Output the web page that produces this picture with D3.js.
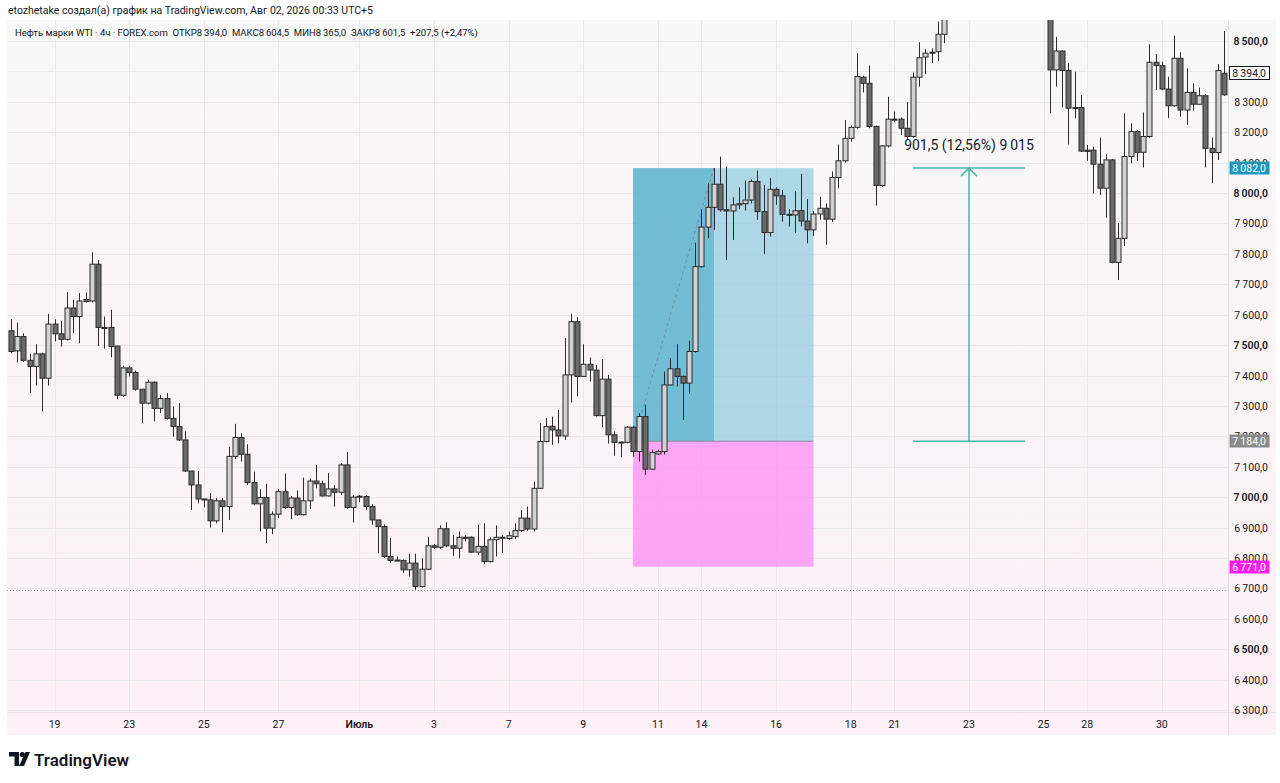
<!DOCTYPE html>
<html>
<head>
<meta charset="utf-8">
<script src="https://cdn.jsdelivr.net/npm/d3@7"></script>
<style>
  html, body { margin: 0; padding: 0; background: #fff; }
  svg { display: block; font-family: Roboto, "Noto Sans", sans-serif; }
</style>
</head>
<body>
<div id="chart"></div>
<script>
// 4h candles, WTI (FOREX.com)
var opens = [
  7547,7481,7528,7450,7430,7471,7391,7569,7537,7519,7622,7594,7650,7645,7766,7558,7558,7497,7335,7425,
  7410,7355,7309,7378,7292,7324,7259,7232,7188,7086,7040,6994,6991,6922,6988,6969,7134,7196,7141,7048,
  6978,6999,6898,6944,7018,6966,6997,6942,6988,7053,7044,7004,7027,7016,7106,6966,7000,7002,6969,6925,
  6903,6805,6792,6792,6761,6783,6706,6763,6840,6835,6896,6840,6832,6868,6868,6819,6838,6788,6860,6866,
  6864,6870,6890,6931,6895,7029,7183,7233,7221,7201,7402,7577,7397,7437,7418,7268,7388,7205,7181,7180,
  7230,7150,7265,7092,7142,7150,7369,7422,7397,7375,7479,7758,7888,7953,8029,7945,7941,7961,7965,7977,
  8038,7939,7870,8012,7991,7930,7928,7942,7908,7879,7931,7950,7914,8051,8106,8180,8216,8381,8361,8219,
  8025,8155,8243,8243,8213,8186,8381,8447,8460,8465,8522,8588,8645,8690,8712,8700,8730,8770,8760,8725,
  8750,8785,8755,8715,8690,8700,8665,8645,8405,8467,8403,8281,8281,8141,8141,8095,8016,8109,7772,7851,
  8120,8202,8134,8186,8430,8419,8342,8287,8443,8273,8331,8292,8320,8147,8133,8394
];
var highs = [
  7585,7574,7539,7471,7503,7475,7603,7585,7580,7674,7649,7671,7673,7805,7780,7594,7616,7497,7432,7432,
  7416,7355,7386,7380,7336,7342,7298,7309,7216,7086,7086,6994,7013,6997,6997,7166,7241,7210,7174,7084,
  7026,7044,6953,7027,7077,7004,7022,7064,7062,7106,7054,7079,7040,7112,7148,7007,7007,7007,6977,6925,
  6910,6865,6805,6795,6814,6814,6799,6870,6846,6907,6917,6876,6887,6876,6871,6909,6914,6868,6907,6876,
  6887,6914,6958,6969,7051,7243,7260,7265,7287,7523,7603,7592,7503,7459,7435,7454,7402,7216,7183,7234,
  7234,7276,7304,7156,7156,7413,7457,7503,7400,7515,7837,7947,8032,8082,8120,8087,7986,8019,8041,8045,
  8074,8027,8049,8019,8010,7947,8007,8063,7980,7941,7988,7966,8071,8160,8240,8222,8460,8386,8419,8222,
  8158,8317,8268,8248,8299,8397,8496,8473,8476,8564,8610,8660,8700,8735,8760,8745,8790,8815,8795,8770,
  8805,8820,8780,8750,8725,8730,8700,8690,8514,8470,8427,8399,8323,8158,8153,8182,8128,8112,7901,8262,
  8229,8208,8265,8489,8457,8432,8383,8518,8463,8410,8361,8347,8325,8182,8424,8533
];
var lows = [
  7473,7443,7445,7342,7367,7282,7367,7512,7495,7515,7539,7506,7640,7640,7497,7488,7460,7322,7329,7397,
  7350,7243,7305,7249,7276,7255,7199,7185,7083,6958,6980,6966,6900,6914,6884,6925,7125,7117,7040,6975,
  6887,6849,6878,6931,6962,6927,6938,6940,6961,7029,7002,7002,6969,7007,6962,6917,6983,6958,6909,6816,
  6800,6785,6790,6750,6739,6695,6703,6760,6830,6830,6835,6807,6799,6854,6817,6810,6779,6785,6805,6816,
  6860,6862,6886,6890,6887,7027,7180,7172,7177,7188,7311,7331,7395,7380,7265,7230,7177,7136,7131,7177,
  7133,7117,7073,7090,7139,7140,7367,7364,7254,7340,7475,7755,7852,7879,7939,7780,7846,7947,7942,7966,
  7912,7800,7857,7961,7906,7890,7868,7890,7835,7859,7912,7830,7905,8016,8100,8169,8212,8331,8213,7959,
  8020,8150,8233,8191,8178,8182,8350,8391,8427,8434,8493,8582,8625,8660,8680,8655,8705,8735,8710,8690,
  8720,8740,8700,8670,8650,8640,8630,8262,8350,8281,8160,8246,8135,8106,7999,7994,7919,7769,7714,7826,
  8098,8106,8084,8182,8339,8339,8246,8284,8251,8224,8271,8290,8084,8032,8109,8320
];
var closes = [
  7479,7528,7450,7430,7471,7391,7569,7537,7519,7622,7594,7645,7643,7766,7558,7557,7495,7335,7425,7410,
  7355,7309,7378,7292,7324,7259,7232,7188,7086,7040,6994,6992,6922,6988,6969,7134,7196,7141,7048,6978,
  6999,6898,6944,7018,6966,6997,6942,6988,7053,7044,7004,7027,7016,7106,6966,7000,7003,6969,6925,6903,
  6805,6792,6793,6761,6783,6706,6763,6840,6835,6896,6840,6832,6868,6866,6819,6838,6788,6860,6868,6868,
  6873,6890,6931,6895,7029,7183,7232,7221,7201,7402,7577,7397,7437,7418,7268,7388,7205,7180,7180,7230,
  7150,7265,7092,7147,7150,7369,7422,7397,7375,7479,7758,7888,7953,8029,7945,7941,7961,7965,7977,8038,
  7939,7870,8012,7991,7930,7929,7942,7908,7879,7931,7950,7914,8051,8106,8180,8216,8383,8361,8219,8025,
  8155,8243,8241,8213,8186,8381,8445,8460,8463,8522,8588,8645,8690,8712,8700,8730,8770,8760,8725,8750,
  8785,8755,8715,8690,8700,8665,8645,8405,8467,8403,8279,8279,8138,8137,8095,8016,8109,7772,7851,8120,
  8202,8134,8186,8430,8419,8342,8287,8443,8273,8331,8292,8320,8147,8133,8403,8323
];

// date labels on the time axis: [candle index, label]
var dateTicks = [
  [7,"19"],[19,"23"],[31,"25"],[43,"27"],[56,"Июль"],[68,"3"],[80,"7"],[92,"9"],[104,"11"],
  [111,"14"],[123,"16"],[135,"18"],[142,"21"],[154,"23"],[166,"25"],[173,"28"],[185,"30"]
];
var priceTicks = [6300,6400,6500,6600,6700,6800,6900,7000,7100,7200,7300,7400,7500,7600,7700,7800,7900,8000,8100,8200,8300,8400,8500];

// long position tool and price range tool
var longPos = { start: 100, end: 129, hit: 113, entry: 7184, target: 8082, stop: 6771 };
var range = { start: 145, end: 163, mid: 154, from: 7184, to: 8082, text: "901,5 (12,56%) 9\u2009015" };
var lastOpen = 8394;
var lowLine = 6695;

var headerText = "etozhetake создал(а) график на TradingView.com, Авг 02, 2026 00:33 UTC+5";
var legendText = "Нефть марки WTI · 4ч · FOREX.com  ОТКР8\u2009394,0  МАКС8\u2009604,5  МИН8\u2009365,0  ЗАКР8\u2009601,5  +207,5 (+2,47%)";

var candles = opens.map(function(o, i) {
  return { i: i, o: o, h: highs[i], l: lows[i], c: closes[i] };
});

var width = 1280, height = 783;
var plot = { left: 7, right: 1228, top: 20, bottom: 712 };
var axisBottom = 735;

var fmt = d3.formatLocale({ decimal: ",", thousands: "\u2009", grouping: [3], currency: ["", ""] }).format(",.1f");

var x = d3.scaleLinear().domain([0, candles.length - 1]).range([11, 1224]);
var y = d3.scaleLinear().domain([6300, 8500]).range([710, 41]);

var svg = d3.select("#chart").append("svg")
  .attr("width", width)
  .attr("height", height);

var defs = svg.append("defs");
var grad = defs.append("linearGradient")
  .attr("id", "bg").attr("x1", 0).attr("y1", 0).attr("x2", 0).attr("y2", 1);
grad.append("stop").attr("offset", "0%").attr("stop-color", "#f8f8f8");
grad.append("stop").attr("offset", "100%").attr("stop-color", "#fdf0f6");

defs.append("clipPath").attr("id", "plotClip")
  .append("rect")
  .attr("x", plot.left).attr("y", plot.top)
  .attr("width", plot.right - plot.left).attr("height", plot.bottom - plot.top);

// background of the chart pane + axes
svg.append("rect")
  .attr("x", plot.left).attr("y", plot.top)
  .attr("width", 1276 - plot.left).attr("height", axisBottom - plot.top)
  .attr("fill", "url(#bg)");

// grid
var grid = svg.append("g").attr("clip-path", "url(#plotClip)");
grid.selectAll(".hg").data(priceTicks).enter().append("line")
  .attr("x1", plot.left).attr("x2", plot.right)
  .attr("y1", function(d) { return Math.round(y(d)) + 0.5; })
  .attr("y2", function(d) { return Math.round(y(d)) + 0.5; })
  .attr("stroke", "#ebe8ea").attr("stroke-width", 1);
grid.selectAll(".vg").data(dateTicks).enter().append("line")
  .attr("x1", function(d) { return Math.round(x(d[0])) + 0.5; })
  .attr("x2", function(d) { return Math.round(x(d[0])) + 0.5; })
  .attr("y1", plot.top).attr("y2", plot.bottom)
  .attr("stroke", "#ebe8ea").attr("stroke-width", 1);

// frame lines
svg.append("line").attr("x1", plot.left).attr("x2", 1276)
  .attr("y1", plot.bottom + 0.5).attr("y2", plot.bottom + 0.5).attr("stroke", "#e6e0e4");
svg.append("line").attr("x1", plot.right + 0.5).attr("x2", plot.right + 0.5)
  .attr("y1", plot.top).attr("y2", axisBottom).attr("stroke", "#e6e0e4");

var pane = svg.append("g").attr("clip-path", "url(#plotClip)");

// dotted low line
pane.append("line")
  .attr("x1", plot.left).attr("x2", plot.right)
  .attr("y1", Math.round(y(lowLine)) + 0.5).attr("y2", Math.round(y(lowLine)) + 0.5)
  .attr("stroke", "#9a9a9a").attr("stroke-width", 1).attr("stroke-dasharray", "1,2");

// long position: profit / loss zones
var lx0 = x(longPos.start), lx1 = x(longPos.end), lxh = x(longPos.hit);
pane.append("rect")
  .attr("x", lx0).attr("y", y(longPos.target))
  .attr("width", lx1 - lx0).attr("height", y(longPos.entry) - y(longPos.target))
  .attr("fill", "#8fcbe0").attr("fill-opacity", 0.7);
pane.append("rect")
  .attr("x", lx0).attr("y", y(longPos.target))
  .attr("width", lxh - lx0).attr("height", y(longPos.entry) - y(longPos.target))
  .attr("fill", "#3fa6c6").attr("fill-opacity", 0.55);
pane.append("rect")
  .attr("x", lx0).attr("y", y(longPos.entry))
  .attr("width", lx1 - lx0).attr("height", y(longPos.stop) - y(longPos.entry))
  .attr("fill", "#fc90f5").attr("fill-opacity", 0.78);
pane.append("line")
  .attr("x1", lx0).attr("x2", lx1)
  .attr("y1", y(longPos.entry)).attr("y2", y(longPos.entry))
  .attr("stroke", "#8a8a9a").attr("stroke-width", 1);
pane.append("line")
  .attr("x1", lx0).attr("y1", y(longPos.entry))
  .attr("x2", lxh).attr("y2", y(longPos.target))
  .attr("stroke", "#7a8c99").attr("stroke-width", 1).attr("stroke-dasharray", "3,3");

// candles
var cg = pane.selectAll(".candle").data(candles).enter().append("g").attr("class", "candle");
cg.append("line")
  .attr("x1", function(d) { return Math.round(x(d.i)) + 0.5; })
  .attr("x2", function(d) { return Math.round(x(d.i)) + 0.5; })
  .attr("y1", function(d) { return y(d.h); })
  .attr("y2", function(d) { return y(d.l); })
  .attr("stroke", "#2b2b2b").attr("stroke-width", 1);
cg.append("rect")
  .attr("x", function(d) { return Math.round(x(d.i)) - 2; })
  .attr("y", function(d) { return y(Math.max(d.o, d.c)); })
  .attr("width", 5)
  .attr("height", function(d) { return Math.max(1, Math.abs(y(d.o) - y(d.c))); })
  .attr("fill", function(d) { return d.c >= d.o ? "#d2d2d2" : "#6a6a6a"; })
  .attr("stroke", "#2b2b2b").attr("stroke-width", 1);

// price range tool
var rColor = "#4db8a4";
var rx0 = x(range.start), rx1 = x(range.end), rxm = x(range.mid);
var rg = svg.append("g").attr("clip-path", "url(#plotClip)");
rg.append("line").attr("x1", rx0).attr("x2", rx1)
  .attr("y1", y(range.to)).attr("y2", y(range.to)).attr("stroke", rColor).attr("stroke-width", 1.5);
rg.append("line").attr("x1", rx0).attr("x2", rx1)
  .attr("y1", y(range.from)).attr("y2", y(range.from)).attr("stroke", rColor).attr("stroke-width", 1.5);
rg.append("line").attr("x1", rxm).attr("x2", rxm)
  .attr("y1", y(range.from)).attr("y2", y(range.to)).attr("stroke", rColor).attr("stroke-width", 1.5);
rg.append("path")
  .attr("d", "M" + (rxm - 8) + "," + (y(range.to) + 8) + "L" + rxm + "," + y(range.to) + "L" + (rxm + 8) + "," + (y(range.to) + 8))
  .attr("fill", "none").attr("stroke", rColor).attr("stroke-width", 1.5);
rg.append("text")
  .attr("x", rxm).attr("y", y(range.to) - 18)
  .attr("text-anchor", "middle")
  .attr("font-size", 14).attr("fill", "#131722")
  .text(range.text);

// price axis
var pa = svg.append("g");
pa.selectAll("text").data(priceTicks).enter().append("text")
  .attr("x", 1268).attr("y", function(d) { return y(d) + 4; })
  .attr("text-anchor", "end")
  .attr("font-size", 10.5)
  .attr("font-weight", function(d) { return d % 500 === 0 ? 600 : 400; })
  .attr("fill", "#131722")
  .text(function(d) { return fmt(d); });

// price labels
function priceLabel(price, bg, fg, border) {
  var g = svg.append("g");
  g.append("rect")
    .attr("x", 1229.5).attr("y", Math.round(y(price)) - 6.5)
    .attr("width", 40).attr("height", 13)
    .attr("fill", bg).attr("stroke", border || "none");
  g.append("text")
    .attr("x", 1266).attr("y", Math.round(y(price)) + 4)
    .attr("text-anchor", "end").attr("font-size", 10.5).attr("fill", fg)
    .text(fmt(price));
}
priceLabel(lastOpen, "#ffffff", "#131722", "#131722");
priceLabel(longPos.target, "#1e96be", "#ffffff");
priceLabel(longPos.entry, "#8a8a8a", "#ffffff");
priceLabel(longPos.stop, "#ff1cf0", "#ffffff");

// time axis
svg.append("g").selectAll("text").data(dateTicks).enter().append("text")
  .attr("x", function(d) { return x(d[0]); })
  .attr("y", 728)
  .attr("text-anchor", "middle")
  .attr("font-size", 10.5)
  .attr("font-weight", function(d) { return isNaN(+d[1]) ? 600 : 400; })
  .attr("fill", "#131722")
  .text(function(d) { return d[1]; });

// header + legend
svg.append("text").attr("x", 8).attr("y", 14)
  .attr("font-size", 10.5).attr("fill", "#131722").text(headerText);
svg.append("text").attr("x", 15).attr("y", 36)
  .attr("font-size", 9.5).attr("fill", "#131722").attr("xml:space", "preserve")
  .style("white-space", "pre").text(legendText);

// TradingView logo
var logo = svg.append("g").attr("fill", "#131722");
logo.append("path").attr("d", "M9,752 h10 v14 h-4.5 v-9.5 h-5.5 z");
logo.append("circle").attr("cx", 22.3).attr("cy", 754.6).attr("r", 2.6);
logo.append("path").attr("d", "M25.5,752 h4.5 l-6,14 h-5 z");
logo.append("text").attr("x", 34).attr("y", 766)
  .attr("font-size", 17).attr("font-weight", 600).attr("fill", "#131722")
  .text("TradingView");
</script>
</body>
</html>
